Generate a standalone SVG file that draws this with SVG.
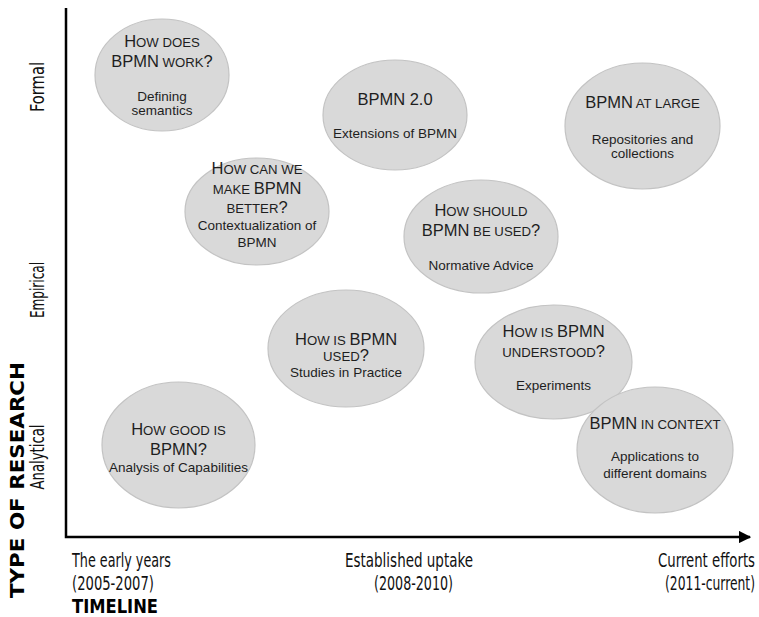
<svg xmlns="http://www.w3.org/2000/svg" width="759" height="617" viewBox="0 0 759 617">
<style>
.bub{fill:#d9d9d9;stroke:#c3c3c3;stroke-width:1.2}
.t{font-family:'Liberation Sans',Arial,sans-serif;font-size:16.5px;fill:#1e1e1e;text-anchor:middle}
.sc{font-size:13.2px}
.s{font-family:'Liberation Sans',Arial,sans-serif;font-size:13.5px;fill:#1e1e1e;text-anchor:middle}
.ax{stroke:#000;stroke-width:2.5;fill:none}
.lab{font-family:'Liberation Sans Narrow','DejaVu Sans Condensed','Liberation Sans',sans-serif;font-stretch:condensed;font-size:19px;fill:#111}
.big{font-family:'DejaVu Sans','Liberation Sans',sans-serif;font-weight:bold;font-size:19px;fill:#000}
</style>
<defs>
<marker id="arr" viewBox="0 0 10 10" refX="9" refY="5" markerWidth="5" markerHeight="5" orient="auto" markerUnits="strokeWidth">
<path d="M0,0 L10,5 L0,10 z" fill="#000"/>
</marker>
</defs>

<g id="axes">
<path class="ax" d="M66,8 L66,537 L750,537" marker-end="url(#arr)"/>
</g>

<g id="node-how-does">
<ellipse class="bub" cx="162" cy="75" rx="67" ry="56"/>
<text class="t" x="162" y="46.5">H<tspan class="sc">OW DOES</tspan></text>
<text class="t" x="162" y="66.5">BPMN<tspan class="sc"> WORK</tspan>?</text>
<text class="s" x="162" y="101">Defining</text>
<text class="s" x="162" y="115">semantics</text>
</g>

<g id="node-bpmn20">
<ellipse class="bub" cx="395" cy="115" rx="72" ry="55"/>
<text class="t" x="395" y="105">BPMN 2.0</text>
<text class="s" x="395" y="138">Extensions of BPMN</text>
</g>

<g id="node-at-large">
<ellipse class="bub" cx="642.5" cy="126" rx="77.5" ry="63"/>
<text class="t" x="642.5" y="108">BPMN<tspan class="sc"> AT LARGE</tspan></text>
<text class="s" x="642.5" y="144">Repositories and</text>
<text class="s" x="642.5" y="157.5">collections</text>
</g>

<g id="node-how-can">
<ellipse class="bub" cx="257" cy="211.5" rx="72" ry="53.5"/>
<text class="t" x="257" y="173.5">H<tspan class="sc">OW CAN WE</tspan></text>
<text class="t" x="257" y="194"><tspan class="sc">MAKE </tspan>BPMN</text>
<text class="t" x="257" y="212.5"><tspan class="sc">BETTER</tspan>?</text>
<text class="s" x="257" y="229.5">Contextualization of</text>
<text class="s" x="257" y="246.5">BPMN</text>
</g>

<g id="node-how-should">
<ellipse class="bub" cx="481" cy="236.5" rx="77" ry="56.5"/>
<text class="t" x="481" y="216">H<tspan class="sc">OW SHOULD</tspan></text>
<text class="t" x="481" y="236">BPMN<tspan class="sc"> BE USED</tspan>?</text>
<text class="s" x="481" y="269.5">Normative Advice</text>
</g>

<g id="node-how-used">
<ellipse class="bub" cx="346" cy="348.5" rx="78" ry="58.5"/>
<text class="t" x="346" y="344.5">H<tspan class="sc">OW IS </tspan>BPMN</text>
<text class="t" x="346" y="361"><tspan class="sc">USED</tspan>?</text>
<text class="s" x="346" y="377">Studies in Practice</text>
</g>

<g id="node-understood">
<ellipse class="bub" cx="553.5" cy="362" rx="78.5" ry="57"/>
<text class="t" x="553.5" y="337">H<tspan class="sc">OW IS </tspan>BPMN</text>
<text class="t" x="553.5" y="357"><tspan class="sc">UNDERSTOOD</tspan>?</text>
<text class="s" x="553.5" y="390">Experiments</text>
</g>

<g id="node-how-good">
<ellipse class="bub" cx="178.5" cy="445" rx="76.5" ry="63"/>
<text class="t" x="178.5" y="435">H<tspan class="sc">OW GOOD IS</tspan></text>
<text class="t" x="178.5" y="455">BPMN?</text>
<text class="s" x="178.5" y="471.5">Analysis of Capabilities</text>
</g>

<g id="node-in-context">
<ellipse class="bub" cx="655" cy="450" rx="78" ry="63"/>
<text class="t" x="655" y="428.5">BPMN<tspan class="sc"> IN CONTEXT</tspan></text>
<text class="s" x="655" y="461">Applications to</text>
<text class="s" x="655" y="477.5">different domains</text>
</g>

<g id="labels">
<text class="lab" transform="translate(44,87) rotate(-90)" text-anchor="middle" textLength="50" lengthAdjust="spacingAndGlyphs">Formal</text>
<text class="lab" transform="translate(44,290) rotate(-90)" text-anchor="middle" textLength="56" lengthAdjust="spacingAndGlyphs">Empirical</text>
<text class="lab" transform="translate(44,457) rotate(-90)" text-anchor="middle" textLength="65" lengthAdjust="spacingAndGlyphs">Analytical</text>
<text class="big" transform="translate(24,480) rotate(-90)" text-anchor="middle" textLength="236" lengthAdjust="spacingAndGlyphs">TYPE OF RESEARCH</text>
<text class="lab" x="72" y="567" textLength="99" lengthAdjust="spacingAndGlyphs">The early years</text>
<text class="lab" x="72" y="590" textLength="82" lengthAdjust="spacingAndGlyphs">(2005-2007)</text>
<text class="big" x="72" y="613" textLength="86" lengthAdjust="spacingAndGlyphs">TIMELINE</text>
<text class="lab" x="345" y="567" textLength="128" lengthAdjust="spacingAndGlyphs">Established uptake</text>
<text class="lab" x="374" y="590" textLength="79" lengthAdjust="spacingAndGlyphs">(2008-2010)</text>
<text class="lab" x="755" y="567" text-anchor="end" textLength="97" lengthAdjust="spacingAndGlyphs">Current efforts</text>
<text class="lab" x="755" y="590" text-anchor="end" textLength="90" lengthAdjust="spacingAndGlyphs">(2011-current)</text>
</g>
</svg>
